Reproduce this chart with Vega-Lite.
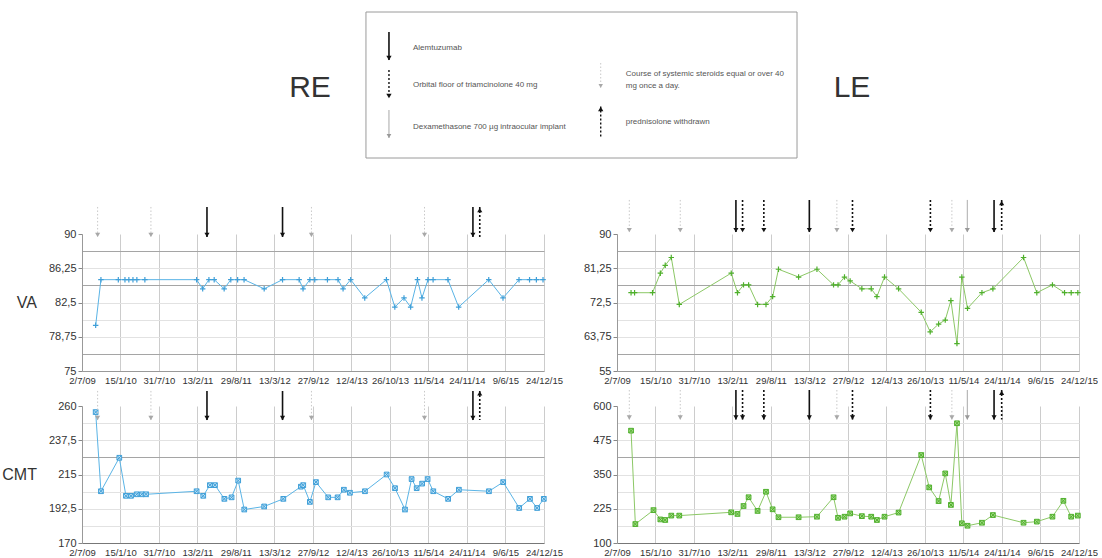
{
  "$schema": "https://vega.github.io/schema/vega-lite/v6.json",
  "padding": {"left": 1, "top": 0, "right": 0, "bottom": 0},
  "background": "white",
  "bounds": "flush",
  "spacing": 34,
  "config": {
    "view": {"stroke": null},
    "font": "Liberation Sans",
    "axis": {"labelFont": "Liberation Sans", "titleFont": "Liberation Sans"},
    "axisX": {"title": null, "tickCount": 30, "labelExpr": "utcFormat(datum.value, '%-d/%-m/%y')", "labelFontSize": 9.5, "labelColor": "#333", "ticks": false, "labelPadding": 4, "labelOverlap": false, "labelFlush": false, "gridColor": "#cccccc", "domainColor": "#999"},
    "axisY": {"tickCount": 30, "labelOverlap": false, "labelFontSize": 11, "labelColor": "#333", "labelPadding": 2, "tickSize": 4, "tickColor": "#888", "domainColor": "#999"}
  },
  "datasets": {
    "obs": [
      {"eye": "RE", "m": "VA", "date": "2009-09-10", "value": 80},
      {"eye": "RE", "m": "VA", "date": "2009-10-07", "value": 85},
      {"eye": "RE", "m": "VA", "date": "2010-01-04", "value": 85},
      {"eye": "RE", "m": "VA", "date": "2010-02-07", "value": 85},
      {"eye": "RE", "m": "VA", "date": "2010-02-27", "value": 85},
      {"eye": "RE", "m": "VA", "date": "2010-03-20", "value": 85},
      {"eye": "RE", "m": "VA", "date": "2010-04-09", "value": 85},
      {"eye": "RE", "m": "VA", "date": "2010-05-20", "value": 85},
      {"eye": "RE", "m": "VA", "date": "2011-02-09", "value": 85},
      {"eye": "RE", "m": "VA", "date": "2011-03-12", "value": 84},
      {"eye": "RE", "m": "VA", "date": "2011-04-13", "value": 85},
      {"eye": "RE", "m": "VA", "date": "2011-05-10", "value": 85},
      {"eye": "RE", "m": "VA", "date": "2011-06-30", "value": 84},
      {"eye": "RE", "m": "VA", "date": "2011-08-03", "value": 85},
      {"eye": "RE", "m": "VA", "date": "2011-09-07", "value": 85},
      {"eye": "RE", "m": "VA", "date": "2011-10-10", "value": 85},
      {"eye": "RE", "m": "VA", "date": "2012-01-21", "value": 84},
      {"eye": "RE", "m": "VA", "date": "2012-04-24", "value": 85},
      {"eye": "RE", "m": "VA", "date": "2012-07-18", "value": 85},
      {"eye": "RE", "m": "VA", "date": "2012-08-07", "value": 84},
      {"eye": "RE", "m": "VA", "date": "2012-09-11", "value": 85},
      {"eye": "RE", "m": "VA", "date": "2012-10-06", "value": 85},
      {"eye": "RE", "m": "VA", "date": "2012-12-10", "value": 85},
      {"eye": "RE", "m": "VA", "date": "2013-02-02", "value": 85},
      {"eye": "RE", "m": "VA", "date": "2013-02-28", "value": 84},
      {"eye": "RE", "m": "VA", "date": "2013-04-08", "value": 85},
      {"eye": "RE", "m": "VA", "date": "2013-06-19", "value": 83},
      {"eye": "RE", "m": "VA", "date": "2013-10-08", "value": 85},
      {"eye": "RE", "m": "VA", "date": "2013-11-20", "value": 82},
      {"eye": "RE", "m": "VA", "date": "2014-01-06", "value": 83},
      {"eye": "RE", "m": "VA", "date": "2014-02-09", "value": 82},
      {"eye": "RE", "m": "VA", "date": "2014-03-16", "value": 85},
      {"eye": "RE", "m": "VA", "date": "2014-04-08", "value": 83},
      {"eye": "RE", "m": "VA", "date": "2014-05-09", "value": 85},
      {"eye": "RE", "m": "VA", "date": "2014-06-04", "value": 85},
      {"eye": "RE", "m": "VA", "date": "2014-08-19", "value": 85},
      {"eye": "RE", "m": "VA", "date": "2014-10-13", "value": 82},
      {"eye": "RE", "m": "VA", "date": "2015-03-16", "value": 85},
      {"eye": "RE", "m": "VA", "date": "2015-05-28", "value": 83},
      {"eye": "RE", "m": "VA", "date": "2015-08-18", "value": 85},
      {"eye": "RE", "m": "VA", "date": "2015-10-11", "value": 85},
      {"eye": "RE", "m": "VA", "date": "2015-11-15", "value": 85},
      {"eye": "RE", "m": "VA", "date": "2015-12-19", "value": 85},
      {"eye": "LE", "m": "VA", "date": "2009-09-12", "value": 75},
      {"eye": "LE", "m": "VA", "date": "2009-09-30", "value": 75},
      {"eye": "LE", "m": "VA", "date": "2009-12-31", "value": 75},
      {"eye": "LE", "m": "VA", "date": "2010-02-09", "value": 80},
      {"eye": "LE", "m": "VA", "date": "2010-03-06", "value": 82},
      {"eye": "LE", "m": "VA", "date": "2010-04-06", "value": 84},
      {"eye": "LE", "m": "VA", "date": "2010-05-17", "value": 72},
      {"eye": "LE", "m": "VA", "date": "2011-02-07", "value": 80},
      {"eye": "LE", "m": "VA", "date": "2011-03-11", "value": 75},
      {"eye": "LE", "m": "VA", "date": "2011-04-11", "value": 77},
      {"eye": "LE", "m": "VA", "date": "2011-05-07", "value": 77},
      {"eye": "LE", "m": "VA", "date": "2011-06-22", "value": 72},
      {"eye": "LE", "m": "VA", "date": "2011-08-04", "value": 72},
      {"eye": "LE", "m": "VA", "date": "2011-09-07", "value": 74},
      {"eye": "LE", "m": "VA", "date": "2011-10-07", "value": 81},
      {"eye": "LE", "m": "VA", "date": "2012-01-18", "value": 79},
      {"eye": "LE", "m": "VA", "date": "2012-04-21", "value": 81},
      {"eye": "LE", "m": "VA", "date": "2012-07-15", "value": 77},
      {"eye": "LE", "m": "VA", "date": "2012-08-07", "value": 77},
      {"eye": "LE", "m": "VA", "date": "2012-09-09", "value": 79},
      {"eye": "LE", "m": "VA", "date": "2012-10-08", "value": 78},
      {"eye": "LE", "m": "VA", "date": "2012-12-07", "value": 76},
      {"eye": "LE", "m": "VA", "date": "2013-01-24", "value": 76},
      {"eye": "LE", "m": "VA", "date": "2013-02-22", "value": 74},
      {"eye": "LE", "m": "VA", "date": "2013-04-02", "value": 79},
      {"eye": "LE", "m": "VA", "date": "2013-06-13", "value": 76},
      {"eye": "LE", "m": "VA", "date": "2013-10-07", "value": 70},
      {"eye": "LE", "m": "VA", "date": "2013-11-22", "value": 65},
      {"eye": "LE", "m": "VA", "date": "2014-01-04", "value": 67},
      {"eye": "LE", "m": "VA", "date": "2014-02-07", "value": 68},
      {"eye": "LE", "m": "VA", "date": "2014-03-08", "value": 73},
      {"eye": "LE", "m": "VA", "date": "2014-04-08", "value": 62},
      {"eye": "LE", "m": "VA", "date": "2014-05-03", "value": 79},
      {"eye": "LE", "m": "VA", "date": "2014-06-01", "value": 71},
      {"eye": "LE", "m": "VA", "date": "2014-08-14", "value": 75},
      {"eye": "LE", "m": "VA", "date": "2014-10-09", "value": 76},
      {"eye": "LE", "m": "VA", "date": "2015-03-15", "value": 84},
      {"eye": "LE", "m": "VA", "date": "2015-05-22", "value": 75},
      {"eye": "LE", "m": "VA", "date": "2015-08-10", "value": 77},
      {"eye": "LE", "m": "VA", "date": "2015-10-11", "value": 75},
      {"eye": "LE", "m": "VA", "date": "2015-11-14", "value": 75},
      {"eye": "LE", "m": "VA", "date": "2015-12-18", "value": 75},
      {"eye": "RE", "m": "CMT", "date": "2009-09-10", "value": 256},
      {"eye": "RE", "m": "CMT", "date": "2009-10-07", "value": 204},
      {"eye": "RE", "m": "CMT", "date": "2010-01-09", "value": 226},
      {"eye": "RE", "m": "CMT", "date": "2010-02-12", "value": 201},
      {"eye": "RE", "m": "CMT", "date": "2010-03-10", "value": 201},
      {"eye": "RE", "m": "CMT", "date": "2010-04-08", "value": 202},
      {"eye": "RE", "m": "CMT", "date": "2010-05-04", "value": 202},
      {"eye": "RE", "m": "CMT", "date": "2010-05-26", "value": 202},
      {"eye": "RE", "m": "CMT", "date": "2011-02-09", "value": 204},
      {"eye": "RE", "m": "CMT", "date": "2011-03-15", "value": 201},
      {"eye": "RE", "m": "CMT", "date": "2011-04-18", "value": 208},
      {"eye": "RE", "m": "CMT", "date": "2011-05-14", "value": 208},
      {"eye": "RE", "m": "CMT", "date": "2011-07-01", "value": 199},
      {"eye": "RE", "m": "CMT", "date": "2011-08-07", "value": 200},
      {"eye": "RE", "m": "CMT", "date": "2011-09-10", "value": 211},
      {"eye": "RE", "m": "CMT", "date": "2011-10-11", "value": 192},
      {"eye": "RE", "m": "CMT", "date": "2012-01-21", "value": 194},
      {"eye": "RE", "m": "CMT", "date": "2012-04-28", "value": 199},
      {"eye": "RE", "m": "CMT", "date": "2012-07-27", "value": 207},
      {"eye": "RE", "m": "CMT", "date": "2012-08-08", "value": 208},
      {"eye": "RE", "m": "CMT", "date": "2012-09-11", "value": 197},
      {"eye": "RE", "m": "CMT", "date": "2012-10-12", "value": 210},
      {"eye": "RE", "m": "CMT", "date": "2012-12-14", "value": 200},
      {"eye": "RE", "m": "CMT", "date": "2013-01-31", "value": 200},
      {"eye": "RE", "m": "CMT", "date": "2013-03-04", "value": 205},
      {"eye": "RE", "m": "CMT", "date": "2013-04-04", "value": 203},
      {"eye": "RE", "m": "CMT", "date": "2013-06-20", "value": 204},
      {"eye": "RE", "m": "CMT", "date": "2013-10-09", "value": 215},
      {"eye": "RE", "m": "CMT", "date": "2013-11-21", "value": 206},
      {"eye": "RE", "m": "CMT", "date": "2014-01-11", "value": 192},
      {"eye": "RE", "m": "CMT", "date": "2014-02-14", "value": 212},
      {"eye": "RE", "m": "CMT", "date": "2014-03-12", "value": 206},
      {"eye": "RE", "m": "CMT", "date": "2014-04-09", "value": 209},
      {"eye": "RE", "m": "CMT", "date": "2014-05-07", "value": 212},
      {"eye": "RE", "m": "CMT", "date": "2014-06-05", "value": 204},
      {"eye": "RE", "m": "CMT", "date": "2014-08-20", "value": 199},
      {"eye": "RE", "m": "CMT", "date": "2014-10-14", "value": 205},
      {"eye": "RE", "m": "CMT", "date": "2015-03-17", "value": 204},
      {"eye": "RE", "m": "CMT", "date": "2015-05-29", "value": 210},
      {"eye": "RE", "m": "CMT", "date": "2015-08-19", "value": 193},
      {"eye": "RE", "m": "CMT", "date": "2015-10-13", "value": 199},
      {"eye": "RE", "m": "CMT", "date": "2015-11-19", "value": 193},
      {"eye": "RE", "m": "CMT", "date": "2015-12-23", "value": 199},
      {"eye": "LE", "m": "CMT", "date": "2009-09-12", "value": 510},
      {"eye": "LE", "m": "CMT", "date": "2009-10-04", "value": 169},
      {"eye": "LE", "m": "CMT", "date": "2010-01-05", "value": 220},
      {"eye": "LE", "m": "CMT", "date": "2010-02-09", "value": 186},
      {"eye": "LE", "m": "CMT", "date": "2010-03-06", "value": 184},
      {"eye": "LE", "m": "CMT", "date": "2010-04-06", "value": 200},
      {"eye": "LE", "m": "CMT", "date": "2010-05-17", "value": 200},
      {"eye": "LE", "m": "CMT", "date": "2011-02-07", "value": 212},
      {"eye": "LE", "m": "CMT", "date": "2011-03-11", "value": 206},
      {"eye": "LE", "m": "CMT", "date": "2011-04-11", "value": 235},
      {"eye": "LE", "m": "CMT", "date": "2011-05-07", "value": 267},
      {"eye": "LE", "m": "CMT", "date": "2011-06-22", "value": 217},
      {"eye": "LE", "m": "CMT", "date": "2011-08-04", "value": 287},
      {"eye": "LE", "m": "CMT", "date": "2011-09-07", "value": 223},
      {"eye": "LE", "m": "CMT", "date": "2011-10-07", "value": 194},
      {"eye": "LE", "m": "CMT", "date": "2012-01-18", "value": 194},
      {"eye": "LE", "m": "CMT", "date": "2012-04-21", "value": 196},
      {"eye": "LE", "m": "CMT", "date": "2012-07-15", "value": 267},
      {"eye": "LE", "m": "CMT", "date": "2012-08-07", "value": 192},
      {"eye": "LE", "m": "CMT", "date": "2012-09-09", "value": 196},
      {"eye": "LE", "m": "CMT", "date": "2012-10-08", "value": 208},
      {"eye": "LE", "m": "CMT", "date": "2012-12-07", "value": 198},
      {"eye": "LE", "m": "CMT", "date": "2013-01-24", "value": 196},
      {"eye": "LE", "m": "CMT", "date": "2013-02-22", "value": 184},
      {"eye": "LE", "m": "CMT", "date": "2013-04-02", "value": 196},
      {"eye": "LE", "m": "CMT", "date": "2013-06-13", "value": 211},
      {"eye": "LE", "m": "CMT", "date": "2013-10-07", "value": 421},
      {"eye": "LE", "m": "CMT", "date": "2013-11-17", "value": 303},
      {"eye": "LE", "m": "CMT", "date": "2014-01-04", "value": 253},
      {"eye": "LE", "m": "CMT", "date": "2014-02-07", "value": 354},
      {"eye": "LE", "m": "CMT", "date": "2014-03-08", "value": 239},
      {"eye": "LE", "m": "CMT", "date": "2014-04-08", "value": 537},
      {"eye": "LE", "m": "CMT", "date": "2014-05-03", "value": 172},
      {"eye": "LE", "m": "CMT", "date": "2014-06-01", "value": 163},
      {"eye": "LE", "m": "CMT", "date": "2014-08-14", "value": 174},
      {"eye": "LE", "m": "CMT", "date": "2014-10-09", "value": 202},
      {"eye": "LE", "m": "CMT", "date": "2015-03-15", "value": 174},
      {"eye": "LE", "m": "CMT", "date": "2015-05-22", "value": 178},
      {"eye": "LE", "m": "CMT", "date": "2015-08-10", "value": 196},
      {"eye": "LE", "m": "CMT", "date": "2015-10-05", "value": 254},
      {"eye": "LE", "m": "CMT", "date": "2015-11-14", "value": 196},
      {"eye": "LE", "m": "CMT", "date": "2015-12-18", "value": 200}
    ],
    "events": [
      {"eye": "RE", "date": "2009-09-20", "type": "Steroids"},
      {"eye": "RE", "date": "2010-06-20", "type": "Steroids"},
      {"eye": "RE", "date": "2011-04-03", "type": "Alemtuzumab"},
      {"eye": "RE", "date": "2012-04-24", "type": "Alemtuzumab"},
      {"eye": "RE", "date": "2012-09-19", "type": "Steroids"},
      {"eye": "RE", "date": "2014-04-21", "type": "Steroids"},
      {"eye": "RE", "date": "2014-12-25", "type": "Alemtuzumab"},
      {"eye": "RE", "date": "2015-01-29", "type": "Prednisolone withdrawn"},
      {"eye": "LE", "date": "2009-09-03", "type": "Steroids"},
      {"eye": "LE", "date": "2010-05-22", "type": "Steroids"},
      {"eye": "LE", "date": "2011-03-03", "type": "Alemtuzumab"},
      {"eye": "LE", "date": "2011-04-06", "type": "Triamcinolone"},
      {"eye": "LE", "date": "2011-07-24", "type": "Triamcinolone"},
      {"eye": "LE", "date": "2012-03-13", "type": "Alemtuzumab"},
      {"eye": "LE", "date": "2012-08-01", "type": "Steroids"},
      {"eye": "LE", "date": "2012-10-20", "type": "Triamcinolone"},
      {"eye": "LE", "date": "2013-11-23", "type": "Triamcinolone"},
      {"eye": "LE", "date": "2014-03-13", "type": "Steroids"},
      {"eye": "LE", "date": "2014-05-31", "type": "Dexamethasone"},
      {"eye": "LE", "date": "2014-10-15", "type": "Alemtuzumab"},
      {"eye": "LE", "date": "2014-11-23", "type": "Prednisolone withdrawn"}
    ]
  },
  "vconcat": [
    {
      "width": 996,
      "height": 200,
      "data": {"values": [{}]},
      "layer": [
        {"mark": {"type": "rect", "fillOpacity": 0, "stroke": "#9a9a9a", "strokeWidth": 1},
         "encoding": {"x": {"datum": 28.51, "type": "quantitative", "scale": {"domain": [0, 100]}, "axis": null}, "x2": {"datum": 71.79},
                      "y": {"datum": 6, "type": "quantitative", "scale": {"domain": [100, 0]}, "axis": null}, "y2": {"datum": 79}}},
        {"mark": {"type": "text", "fontSize": 30, "color": "#333", "font": "Liberation Sans"},
         "encoding": {"x": {"datum": 22.89}, "y": {"datum": 44}, "text": {"value": "RE"}}},
        {"mark": {"type": "text", "fontSize": 30, "color": "#333", "font": "Liberation Sans"},
         "encoding": {"x": {"datum": 77.31}, "y": {"datum": 44}, "text": {"value": "LE"}}},
        {"mark": {"type": "rule", "color": "#111", "strokeWidth": 1.6},
         "encoding": {"x": {"datum": 30.82}, "y": {"datum": 16}, "y2": {"datum": 30}}},
        {"mark": {"type": "point", "shape": "triangle-down", "filled": true, "color": "#111", "size": 28, "opacity": 1},
         "encoding": {"x": {"datum": 30.82}, "y": {"datum": 29}}},
        {"mark": {"type": "text", "align": "left", "baseline": "middle", "fontSize": 8, "color": "#555"},
         "encoding": {"x": {"datum": 33.23}, "y": {"datum": 24}, "text": {"value": "Alemtuzumab"}}},
        {"mark": {"type": "rule", "color": "#111", "strokeWidth": 1.4, "strokeDash": [2, 2]},
         "encoding": {"x": {"datum": 30.82}, "y": {"datum": 35}, "y2": {"datum": 49}}},
        {"mark": {"type": "point", "shape": "triangle-down", "filled": true, "color": "#111", "size": 28, "opacity": 1},
         "encoding": {"x": {"datum": 30.82}, "y": {"datum": 48}}},
        {"mark": {"type": "text", "align": "left", "baseline": "middle", "fontSize": 8, "color": "#555"},
         "encoding": {"x": {"datum": 33.23}, "y": {"datum": 42.5}, "text": {"value": "Orbital floor of triamcinolone 40 mg"}}},
        {"mark": {"type": "rule", "color": "#a8a8a8", "strokeWidth": 1},
         "encoding": {"x": {"datum": 30.82}, "y": {"datum": 55}, "y2": {"datum": 69}}},
        {"mark": {"type": "point", "shape": "triangle-down", "filled": true, "color": "#999", "size": 22, "opacity": 1},
         "encoding": {"x": {"datum": 30.82}, "y": {"datum": 68}}},
        {"mark": {"type": "text", "align": "left", "baseline": "middle", "fontSize": 8, "color": "#555"},
         "encoding": {"x": {"datum": 33.23}, "y": {"datum": 63.5}, "text": {"value": "Dexamethasone 700 µg intraocular implant"}}},
        {"mark": {"type": "rule", "color": "#c8c8c8", "strokeWidth": 1, "strokeDash": [1.5, 2]},
         "encoding": {"x": {"datum": 52.08}, "y": {"datum": 31.5}, "y2": {"datum": 44}}},
        {"mark": {"type": "point", "shape": "triangle-down", "filled": true, "color": "#a8a8a8", "size": 20, "opacity": 1},
         "encoding": {"x": {"datum": 52.08}, "y": {"datum": 43}}},
        {"mark": {"type": "text", "align": "left", "baseline": "middle", "fontSize": 8, "color": "#555", "lineHeight": 12},
         "encoding": {"x": {"datum": 54.59}, "y": {"datum": 37}, "text": {"value": ["Course of systemic steroids equal or over 40", "mg once a day."]}}},
        {"mark": {"type": "rule", "color": "#111", "strokeWidth": 1.4, "strokeDash": [2, 2]},
         "encoding": {"x": {"datum": 52.08}, "y": {"datum": 53.3}, "y2": {"datum": 68.3}}},
        {"mark": {"type": "point", "shape": "triangle-up", "filled": true, "color": "#111", "size": 28, "opacity": 1},
         "encoding": {"x": {"datum": 52.08}, "y": {"datum": 54.5}}},
        {"mark": {"type": "text", "align": "left", "baseline": "middle", "fontSize": 8, "color": "#555"},
         "encoding": {"x": {"datum": 54.59}, "y": {"datum": 60.8}, "text": {"value": "prednisolone withdrawn"}}}
      ]
    },
    {
      "columns": 2,
      "bounds": "flush",
      "spacing": {"row": 35, "column": 73},
      "concat": [
        {
          "width": 462, "height": 137,
          "encoding": {"x": {"field": "date", "type": "temporal",
            "scale": {"type": "utc", "domain": [{"year": 2009, "month": 7, "date": 2, "utc": true}, {"year": 2015, "month": 12, "date": 24, "utc": true}]},
            "axis": {"values": [{"year": 2009, "month": 7, "date": 2, "utc": true}, {"year": 2010, "month": 1, "date": 15, "utc": true}, {"year": 2010, "month": 7, "date": 31, "utc": true}, {"year": 2011, "month": 2, "date": 13, "utc": true}, {"year": 2011, "month": 8, "date": 29, "utc": true}, {"year": 2012, "month": 3, "date": 13, "utc": true}, {"year": 2012, "month": 9, "date": 27, "utc": true}, {"year": 2013, "month": 4, "date": 12, "utc": true}, {"year": 2013, "month": 10, "date": 26, "utc": true}, {"year": 2014, "month": 5, "date": 11, "utc": true}, {"year": 2014, "month": 11, "date": 24, "utc": true}, {"year": 2015, "month": 6, "date": 9, "utc": true}, {"year": 2015, "month": 12, "date": 24, "utc": true}]}}},
          "layer": [
            {"data": {"name": "obs"}, "transform": [{"filter": "datum.eye=='RE' && datum.m=='VA'"}],
             "mark": {"type": "line", "color": "#5ab4e6", "strokeWidth": 1},
             "encoding": {"y": {"field": "value", "type": "quantitative", "scale": {"domain": [75, 90], "nice": false, "zero": false},
               "axis": {"values": [75, 76.875, 78.75, 80.625, 82.5, 84.375, 86.25, 88.125, 90], "tickCount": 30, "labelOverlap": false,
                 "labelExpr": "indexof([75,78.75,82.5,86.25,90], datum.value) >= 0 ? replace(toString(datum.value), '.', ',') : ''",
                 "tickOpacity": {"condition": {"test": "indexof([75,78.75,82.5,86.25,90], datum.value) < 0", "value": 0}, "value": 1},
                 "gridColor": {"condition": {"test": "indexof([76.875,84.375,88.125], datum.value) >= 0", "value": "#a5a5a5"}, "value": "#e2e2e2"},
                 "gridOpacity": {"condition": {"test": "datum.value == 90", "value": 0}, "value": 1},
                 "title": "VA", "titleAngle": 0, "titleAlign": "right", "titleBaseline": "middle", "titleFontSize": 16, "titleFontWeight": "normal", "titleColor": "#333", "titlePadding": 12}}}},
            {"data": {"name": "obs"}, "transform": [{"filter": "datum.eye=='RE' && datum.m=='VA'"}],
             "mark": {"type": "point", "shape": "M-1,0H1M0,-1V1", "filled": false, "stroke": "#3f9fd8", "strokeWidth": 1.2, "size": 30, "opacity": 1},
             "encoding": {"y": {"field": "value", "type": "quantitative"}}},
            {"data": {"name": "events"}, "transform": [{"filter": "datum.eye=='RE'"}],
             "mark": {"type": "rule"},
             "encoding": {"y": {"datum": 92.96}, "y2": {"datum": 89.67},
               "color": {"condition": [{"test": "datum.type=='Dexamethasone'", "value": "#a8a8a8"}, {"test": "datum.type=='Steroids'", "value": "#c8c8c8"}], "value": "#111"},
               "strokeDash": {"condition": [{"test": "datum.type=='Steroids'", "value": [1.5, 2]}, {"test": "datum.type=='Triamcinolone' || datum.type=='Prednisolone withdrawn'", "value": [2, 2]}], "value": [1, 0]},
               "strokeWidth": {"condition": {"test": "datum.type=='Dexamethasone' || datum.type=='Steroids'", "value": 1}, "value": 1.6}}},
            {"data": {"name": "events"}, "transform": [{"filter": "datum.eye=='RE' && datum.type!='Prednisolone withdrawn'"}],
             "mark": {"type": "point", "shape": "triangle-down", "filled": true, "size": 26, "opacity": 1},
             "encoding": {"y": {"datum": 89.9},
               "color": {"condition": [{"test": "datum.type=='Dexamethasone'", "value": "#999"}, {"test": "datum.type=='Steroids'", "value": "#a8a8a8"}], "value": "#111"}}},
            {"data": {"name": "events"}, "transform": [{"filter": "datum.eye=='RE' && datum.type=='Prednisolone withdrawn'"}],
             "mark": {"type": "point", "shape": "triangle-up", "filled": true, "size": 26, "opacity": 1, "color": "#111"},
             "encoding": {"y": {"datum": 92.63}}}
          ]
        },
        {
          "width": 462, "height": 137,
          "encoding": {"x": {"field": "date", "type": "temporal",
            "scale": {"type": "utc", "domain": [{"year": 2009, "month": 7, "date": 2, "utc": true}, {"year": 2015, "month": 12, "date": 24, "utc": true}]},
            "axis": {"values": [{"year": 2009, "month": 7, "date": 2, "utc": true}, {"year": 2010, "month": 1, "date": 15, "utc": true}, {"year": 2010, "month": 7, "date": 31, "utc": true}, {"year": 2011, "month": 2, "date": 13, "utc": true}, {"year": 2011, "month": 8, "date": 29, "utc": true}, {"year": 2012, "month": 3, "date": 13, "utc": true}, {"year": 2012, "month": 9, "date": 27, "utc": true}, {"year": 2013, "month": 4, "date": 12, "utc": true}, {"year": 2013, "month": 10, "date": 26, "utc": true}, {"year": 2014, "month": 5, "date": 11, "utc": true}, {"year": 2014, "month": 11, "date": 24, "utc": true}, {"year": 2015, "month": 6, "date": 9, "utc": true}, {"year": 2015, "month": 12, "date": 24, "utc": true}]}}},
          "layer": [
            {"data": {"name": "obs"}, "transform": [{"filter": "datum.eye=='LE' && datum.m=='VA'"}],
             "mark": {"type": "line", "color": "#8cc866", "strokeWidth": 1},
             "encoding": {"y": {"field": "value", "type": "quantitative", "scale": {"domain": [55, 90], "nice": false, "zero": false},
               "axis": {"values": [55, 59.375, 63.75, 68.125, 72.5, 76.875, 81.25, 85.625, 90], "tickCount": 30, "labelOverlap": false,
                 "labelExpr": "indexof([55,63.75,72.5,81.25,90], datum.value) >= 0 ? replace(toString(datum.value), '.', ',') : ''",
                 "tickOpacity": {"condition": {"test": "indexof([55,63.75,72.5,81.25,90], datum.value) < 0", "value": 0}, "value": 1},
                 "gridColor": {"condition": {"test": "indexof([59.375,76.875,85.625], datum.value) >= 0", "value": "#a5a5a5"}, "value": "#e2e2e2"},
                 "gridOpacity": {"condition": {"test": "datum.value == 90", "value": 0}, "value": 1},
                 "title": null}}}},
            {"data": {"name": "obs"}, "transform": [{"filter": "datum.eye=='LE' && datum.m=='VA'"}],
             "mark": {"type": "point", "shape": "M-1,0H1M0,-1V1", "filled": false, "stroke": "#4fb02c", "strokeWidth": 1.2, "size": 30, "opacity": 1},
             "encoding": {"y": {"field": "value", "type": "quantitative"}}},
            {"data": {"name": "events"}, "transform": [{"filter": "datum.eye=='LE'"}],
             "mark": {"type": "rule"},
             "encoding": {"y": {"datum": 98.7}, "y2": {"datum": 90.5},
               "color": {"condition": [{"test": "datum.type=='Dexamethasone'", "value": "#a8a8a8"}, {"test": "datum.type=='Steroids'", "value": "#c8c8c8"}], "value": "#111"},
               "strokeDash": {"condition": [{"test": "datum.type=='Steroids'", "value": [1.5, 2]}, {"test": "datum.type=='Triamcinolone' || datum.type=='Prednisolone withdrawn'", "value": [2, 2]}], "value": [1, 0]},
               "strokeWidth": {"condition": {"test": "datum.type=='Dexamethasone' || datum.type=='Steroids'", "value": 1}, "value": 1.6}}},
            {"data": {"name": "events"}, "transform": [{"filter": "datum.eye=='LE' && datum.type!='Prednisolone withdrawn'"}],
             "mark": {"type": "point", "shape": "triangle-down", "filled": true, "size": 26, "opacity": 1},
             "encoding": {"y": {"datum": 91.0},
               "color": {"condition": [{"test": "datum.type=='Dexamethasone'", "value": "#999"}, {"test": "datum.type=='Steroids'", "value": "#a8a8a8"}], "value": "#111"}}},
            {"data": {"name": "events"}, "transform": [{"filter": "datum.eye=='LE' && datum.type=='Prednisolone withdrawn'"}],
             "mark": {"type": "point", "shape": "triangle-up", "filled": true, "size": 26, "opacity": 1, "color": "#111"},
             "encoding": {"y": {"datum": 97.9}}}
          ]
        },
        {
          "width": 462, "height": 137,
          "encoding": {"x": {"field": "date", "type": "temporal",
            "scale": {"type": "utc", "domain": [{"year": 2009, "month": 7, "date": 2, "utc": true}, {"year": 2015, "month": 12, "date": 24, "utc": true}]},
            "axis": {"domainColor": "#777", "values": [{"year": 2009, "month": 7, "date": 2, "utc": true}, {"year": 2010, "month": 1, "date": 15, "utc": true}, {"year": 2010, "month": 7, "date": 31, "utc": true}, {"year": 2011, "month": 2, "date": 13, "utc": true}, {"year": 2011, "month": 8, "date": 29, "utc": true}, {"year": 2012, "month": 3, "date": 13, "utc": true}, {"year": 2012, "month": 9, "date": 27, "utc": true}, {"year": 2013, "month": 4, "date": 12, "utc": true}, {"year": 2013, "month": 10, "date": 26, "utc": true}, {"year": 2014, "month": 5, "date": 11, "utc": true}, {"year": 2014, "month": 11, "date": 24, "utc": true}, {"year": 2015, "month": 6, "date": 9, "utc": true}, {"year": 2015, "month": 12, "date": 24, "utc": true}]}}},
          "layer": [
            {"data": {"name": "obs"}, "transform": [{"filter": "datum.eye=='RE' && datum.m=='CMT'"}],
             "mark": {"type": "line", "color": "#5ab4e6", "strokeWidth": 1},
             "encoding": {"y": {"field": "value", "type": "quantitative", "scale": {"domain": [170, 260], "nice": false, "zero": false},
               "axis": {"values": [170, 181.25, 192.5, 203.75, 215, 226.25, 237.5, 248.75, 260], "tickCount": 30, "labelOverlap": false,
                 "labelExpr": "indexof([170,192.5,215,237.5,260], datum.value) >= 0 ? replace(toString(datum.value), '.', ',') : ''",
                 "tickOpacity": {"condition": {"test": "indexof([170,192.5,215,237.5,260], datum.value) < 0", "value": 0}, "value": 1},
                 "gridColor": {"condition": {"test": "datum.value == 226.25", "value": "#a5a5a5"}, "value": "#e2e2e2"},
                 "gridOpacity": {"condition": {"test": "datum.value == 260", "value": 0}, "value": 1},
                 "title": "CMT", "titleAngle": 0, "titleAlign": "right", "titleBaseline": "middle", "titleFontSize": 16, "titleFontWeight": "normal", "titleColor": "#333", "titlePadding": 12}}}},
            {"data": {"name": "obs"}, "transform": [{"filter": "datum.eye=='RE' && datum.m=='CMT'"}],
             "mark": {"type": "point", "shape": "M-1,-1H1V1H-1ZM-1,-1L1,1M-1,1L1,-1", "filled": true, "fill": "#c2e3f6", "stroke": "#3f9fd8", "strokeWidth": 1, "size": 22, "opacity": 1},
             "encoding": {"y": {"field": "value", "type": "quantitative"}}},
            {"data": {"name": "events"}, "transform": [{"filter": "datum.eye=='RE'"}],
             "mark": {"type": "rule"},
             "encoding": {"y": {"datum": 269.9}, "y2": {"datum": 250.8},
               "color": {"condition": [{"test": "datum.type=='Dexamethasone'", "value": "#a8a8a8"}, {"test": "datum.type=='Steroids'", "value": "#c8c8c8"}], "value": "#111"},
               "strokeDash": {"condition": [{"test": "datum.type=='Steroids'", "value": [1.5, 2]}, {"test": "datum.type=='Triamcinolone' || datum.type=='Prednisolone withdrawn'", "value": [2, 2]}], "value": [1, 0]},
               "strokeWidth": {"condition": {"test": "datum.type=='Dexamethasone' || datum.type=='Steroids'", "value": 1}, "value": 1.6}}},
            {"data": {"name": "events"}, "transform": [{"filter": "datum.eye=='RE' && datum.type!='Prednisolone withdrawn'"}],
             "mark": {"type": "point", "shape": "triangle-down", "filled": true, "size": 26, "opacity": 1},
             "encoding": {"y": {"datum": 252.1},
               "color": {"condition": [{"test": "datum.type=='Dexamethasone'", "value": "#999"}, {"test": "datum.type=='Steroids'", "value": "#a8a8a8"}], "value": "#111"}}},
            {"data": {"name": "events"}, "transform": [{"filter": "datum.eye=='RE' && datum.type=='Prednisolone withdrawn'"}],
             "mark": {"type": "point", "shape": "triangle-up", "filled": true, "size": 26, "opacity": 1, "color": "#111"},
             "encoding": {"y": {"datum": 268.3}}}
          ]
        },
        {
          "width": 462, "height": 137,
          "encoding": {"x": {"field": "date", "type": "temporal",
            "scale": {"type": "utc", "domain": [{"year": 2009, "month": 7, "date": 2, "utc": true}, {"year": 2015, "month": 12, "date": 24, "utc": true}]},
            "axis": {"domainColor": "#777", "values": [{"year": 2009, "month": 7, "date": 2, "utc": true}, {"year": 2010, "month": 1, "date": 15, "utc": true}, {"year": 2010, "month": 7, "date": 31, "utc": true}, {"year": 2011, "month": 2, "date": 13, "utc": true}, {"year": 2011, "month": 8, "date": 29, "utc": true}, {"year": 2012, "month": 3, "date": 13, "utc": true}, {"year": 2012, "month": 9, "date": 27, "utc": true}, {"year": 2013, "month": 4, "date": 12, "utc": true}, {"year": 2013, "month": 10, "date": 26, "utc": true}, {"year": 2014, "month": 5, "date": 11, "utc": true}, {"year": 2014, "month": 11, "date": 24, "utc": true}, {"year": 2015, "month": 6, "date": 9, "utc": true}, {"year": 2015, "month": 12, "date": 24, "utc": true}]}}},
          "layer": [
            {"data": {"name": "obs"}, "transform": [{"filter": "datum.eye=='LE' && datum.m=='CMT'"}],
             "mark": {"type": "line", "color": "#8cc866", "strokeWidth": 1},
             "encoding": {"y": {"field": "value", "type": "quantitative", "scale": {"domain": [100, 600], "nice": false, "zero": false},
               "axis": {"values": [100, 162.5, 225, 287.5, 350, 412.5, 475, 537.5, 600], "tickCount": 30, "labelOverlap": false,
                 "labelExpr": "indexof([100,225,350,475,600], datum.value) >= 0 ? replace(toString(datum.value), '.', ',') : ''",
                 "tickOpacity": {"condition": {"test": "indexof([100,225,350,475,600], datum.value) < 0", "value": 0}, "value": 1},
                 "gridColor": {"condition": {"test": "datum.value == 412.5", "value": "#a5a5a5"}, "value": "#e2e2e2"},
                 "gridOpacity": {"condition": {"test": "datum.value == 600", "value": 0}, "value": 1},
                 "title": null}}}},
            {"data": {"name": "obs"}, "transform": [{"filter": "datum.eye=='LE' && datum.m=='CMT'"}],
             "mark": {"type": "point", "shape": "M-1,-1H1V1H-1ZM-1,-1L1,1M-1,1L1,-1", "filled": true, "fill": "#a9dc8c", "stroke": "#4fb02c", "strokeWidth": 1, "size": 22, "opacity": 1},
             "encoding": {"y": {"field": "value", "type": "quantitative"}}},
            {"data": {"name": "events"}, "transform": [{"filter": "datum.eye=='LE'"}],
             "mark": {"type": "rule"},
             "encoding": {"y": {"datum": 658.4}, "y2": {"datum": 550.7},
               "color": {"condition": [{"test": "datum.type=='Dexamethasone'", "value": "#a8a8a8"}, {"test": "datum.type=='Steroids'", "value": "#c8c8c8"}], "value": "#111"},
               "strokeDash": {"condition": [{"test": "datum.type=='Steroids'", "value": [1.5, 2]}, {"test": "datum.type=='Triamcinolone' || datum.type=='Prednisolone withdrawn'", "value": [2, 2]}], "value": [1, 0]},
               "strokeWidth": {"condition": {"test": "datum.type=='Dexamethasone' || datum.type=='Steroids'", "value": 1}, "value": 1.6}}},
            {"data": {"name": "events"}, "transform": [{"filter": "datum.eye=='LE' && datum.type!='Prednisolone withdrawn'"}],
             "mark": {"type": "point", "shape": "triangle-down", "filled": true, "size": 26, "opacity": 1},
             "encoding": {"y": {"datum": 558},
               "color": {"condition": [{"test": "datum.type=='Dexamethasone'", "value": "#999"}, {"test": "datum.type=='Steroids'", "value": "#a8a8a8"}], "value": "#111"}}},
            {"data": {"name": "events"}, "transform": [{"filter": "datum.eye=='LE' && datum.type=='Prednisolone withdrawn'"}],
             "mark": {"type": "point", "shape": "triangle-up", "filled": true, "size": 26, "opacity": 1, "color": "#111"},
             "encoding": {"y": {"datum": 648.5}}},
            {"data": {"values": [{}]},
             "mark": {"type": "point", "shape": "square", "filled": true, "color": "#6cc04a", "size": 6, "opacity": 1},
             "encoding": {"x": {"datum": {"year": 2012, "month": 7, "date": 4, "utc": true}}, "y": {"datum": 113.5}}},
            {"data": {"values": [{}]},
             "mark": {"type": "text", "align": "left", "baseline": "middle", "fontSize": 6, "color": "#666"},
             "encoding": {"x": {"datum": {"year": 2012, "month": 7, "date": 26, "utc": true}}, "y": {"datum": 113.5}, "text": {"value": "LE"}}}
          ]
        }
      ]
    }
  ]
}
